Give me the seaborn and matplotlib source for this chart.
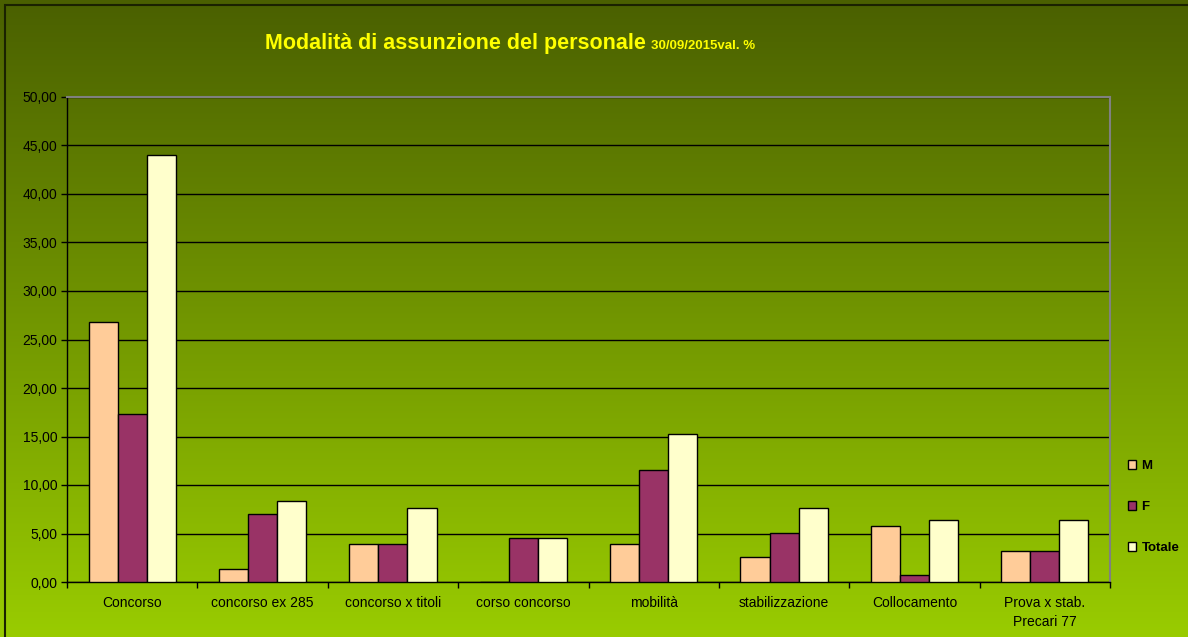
import numpy as np
import pandas as pd
import matplotlib
matplotlib.use("Agg")
import matplotlib.pyplot as plt
import seaborn as sns
from matplotlib.ticker import FuncFormatter
from matplotlib.patches import Rectangle

# data (val. %)
categories = ["Concorso", "concorso ex 285", "concorso x titoli", "corso concorso",
              "mobilità", "stabilizzazione", "Collocamento", "Prova x stab.\nPrecari 77"]
m_vals = [26.8, 1.3, 3.9, 0.0, 3.9, 2.55, 5.75, 3.2]
f_vals = [17.3, 7.0, 3.9, 4.5, 11.5, 5.1, 0.7, 3.2]
tot_vals = [44.0, 8.3, 7.65, 4.5, 15.3, 7.65, 6.4, 6.4]
series = ["M", "F", "Totale"]
colors = ["#ffcc99", "#993366", "#ffffcc"]

df = pd.DataFrame({"cat": categories * 3,
                   "serie": np.repeat(series, len(categories)),
                   "val": m_vals + f_vals + tot_vals})

sns.set_style("white")
plt.rcParams['font.family'] = ['Liberation Sans', 'DejaVu Sans']
plt.rcParams['text.color'] = 'black'

fig = plt.figure(figsize=(11.88, 6.37), dpi=100)

# gradient background (dark olive on top -> bright green at bottom)
bg = fig.add_axes([0, 0, 1, 1], zorder=-5)
top = np.array([0x4a, 0x60, 0x00]) / 255
bot = np.array([0x99, 0xcc, 0x00]) / 255
t = np.linspace(0, 1, 256)[:, None]
grad = top[None, :] * (1 - t) + bot[None, :] * t
bg.imshow(grad[:, None, :], aspect="auto", extent=[0, 1, 0, 1])
bg.set_axis_off()
fig.patches.append(Rectangle((5 / 1188, -0.01), 1.02, 1 - 5 / 637 + 0.01,
                             transform=fig.transFigure, fill=False,
                             edgecolor="#1a2200", linewidth=1.5))

ax = fig.add_axes([67 / 1188, 1 - 582 / 637, (1110 - 67) / 1188, (582 - 97) / 637])
ax.set_facecolor("none")
sns.barplot(data=df, x="cat", y="val", hue="serie", palette=colors, saturation=1,
            width=0.67, gap=0, edgecolor="black", linewidth=1, ax=ax, legend=False, zorder=3)

ax.set_ylim(0, 50)
ax.set_yticks(np.arange(0, 51, 5))
ax.yaxis.set_major_formatter(FuncFormatter(lambda v, p: f"{v:.2f}".replace(".", ",")))
ax.grid(axis="y", color="black", linewidth=1, zorder=0)
ax.set_axisbelow(True)
ax.set_xlim(-0.5, len(categories) - 0.5)
ax.set_xlabel("")
ax.set_ylabel("")
ax.tick_params(axis="y", labelsize=10, length=4, width=1, color="black", labelcolor="black",
               direction="out", left=True, pad=3)
ax.tick_params(axis="x", labelsize=10, length=0, pad=10, labelcolor="black")
ax.set_xticks(np.arange(-0.5, len(categories), 1), minor=True)
ax.tick_params(axis="x", which="minor", length=4, width=1, color="black", direction="out", bottom=True)
for lab in ax.get_xticklabels():
    lab.set_linespacing(1.5)

for s in ["left", "bottom"]:
    ax.spines[s].set_color("black")
    ax.spines[s].set_linewidth(1)
for s in ["top", "right"]:
    ax.spines[s].set_color("#808080")
    ax.spines[s].set_linewidth(1.5)

# title
fig.text(265 / 1188, 1 - 43 / 637, "Modalità di assunzione del personale", color="#ffff00",
         fontsize=15.5, fontweight="bold", ha="left", va="center")
fig.text(651 / 1188, 1 - 46 / 637, "30/09/2015val. %", color="#ffff00",
         fontsize=9.5, fontweight="bold", ha="left", va="center")

# legend
handles = [Rectangle((0, 0), 1, 1, facecolor=c, edgecolor="black", linewidth=1) for c in colors]
leg = fig.legend(handles, series, loc="center left", bbox_to_anchor=(1121 / 1188, 1 - 507 / 637),
                 frameon=False, fontsize=9.5, handlelength=0.65, handleheight=0.65,
                 handletextpad=0.4, labelspacing=2.2, borderpad=0)
for txt in leg.get_texts():
    txt.set_fontweight("bold")
    txt.set_color("black")

fig.savefig("out.png", dpi=100)
